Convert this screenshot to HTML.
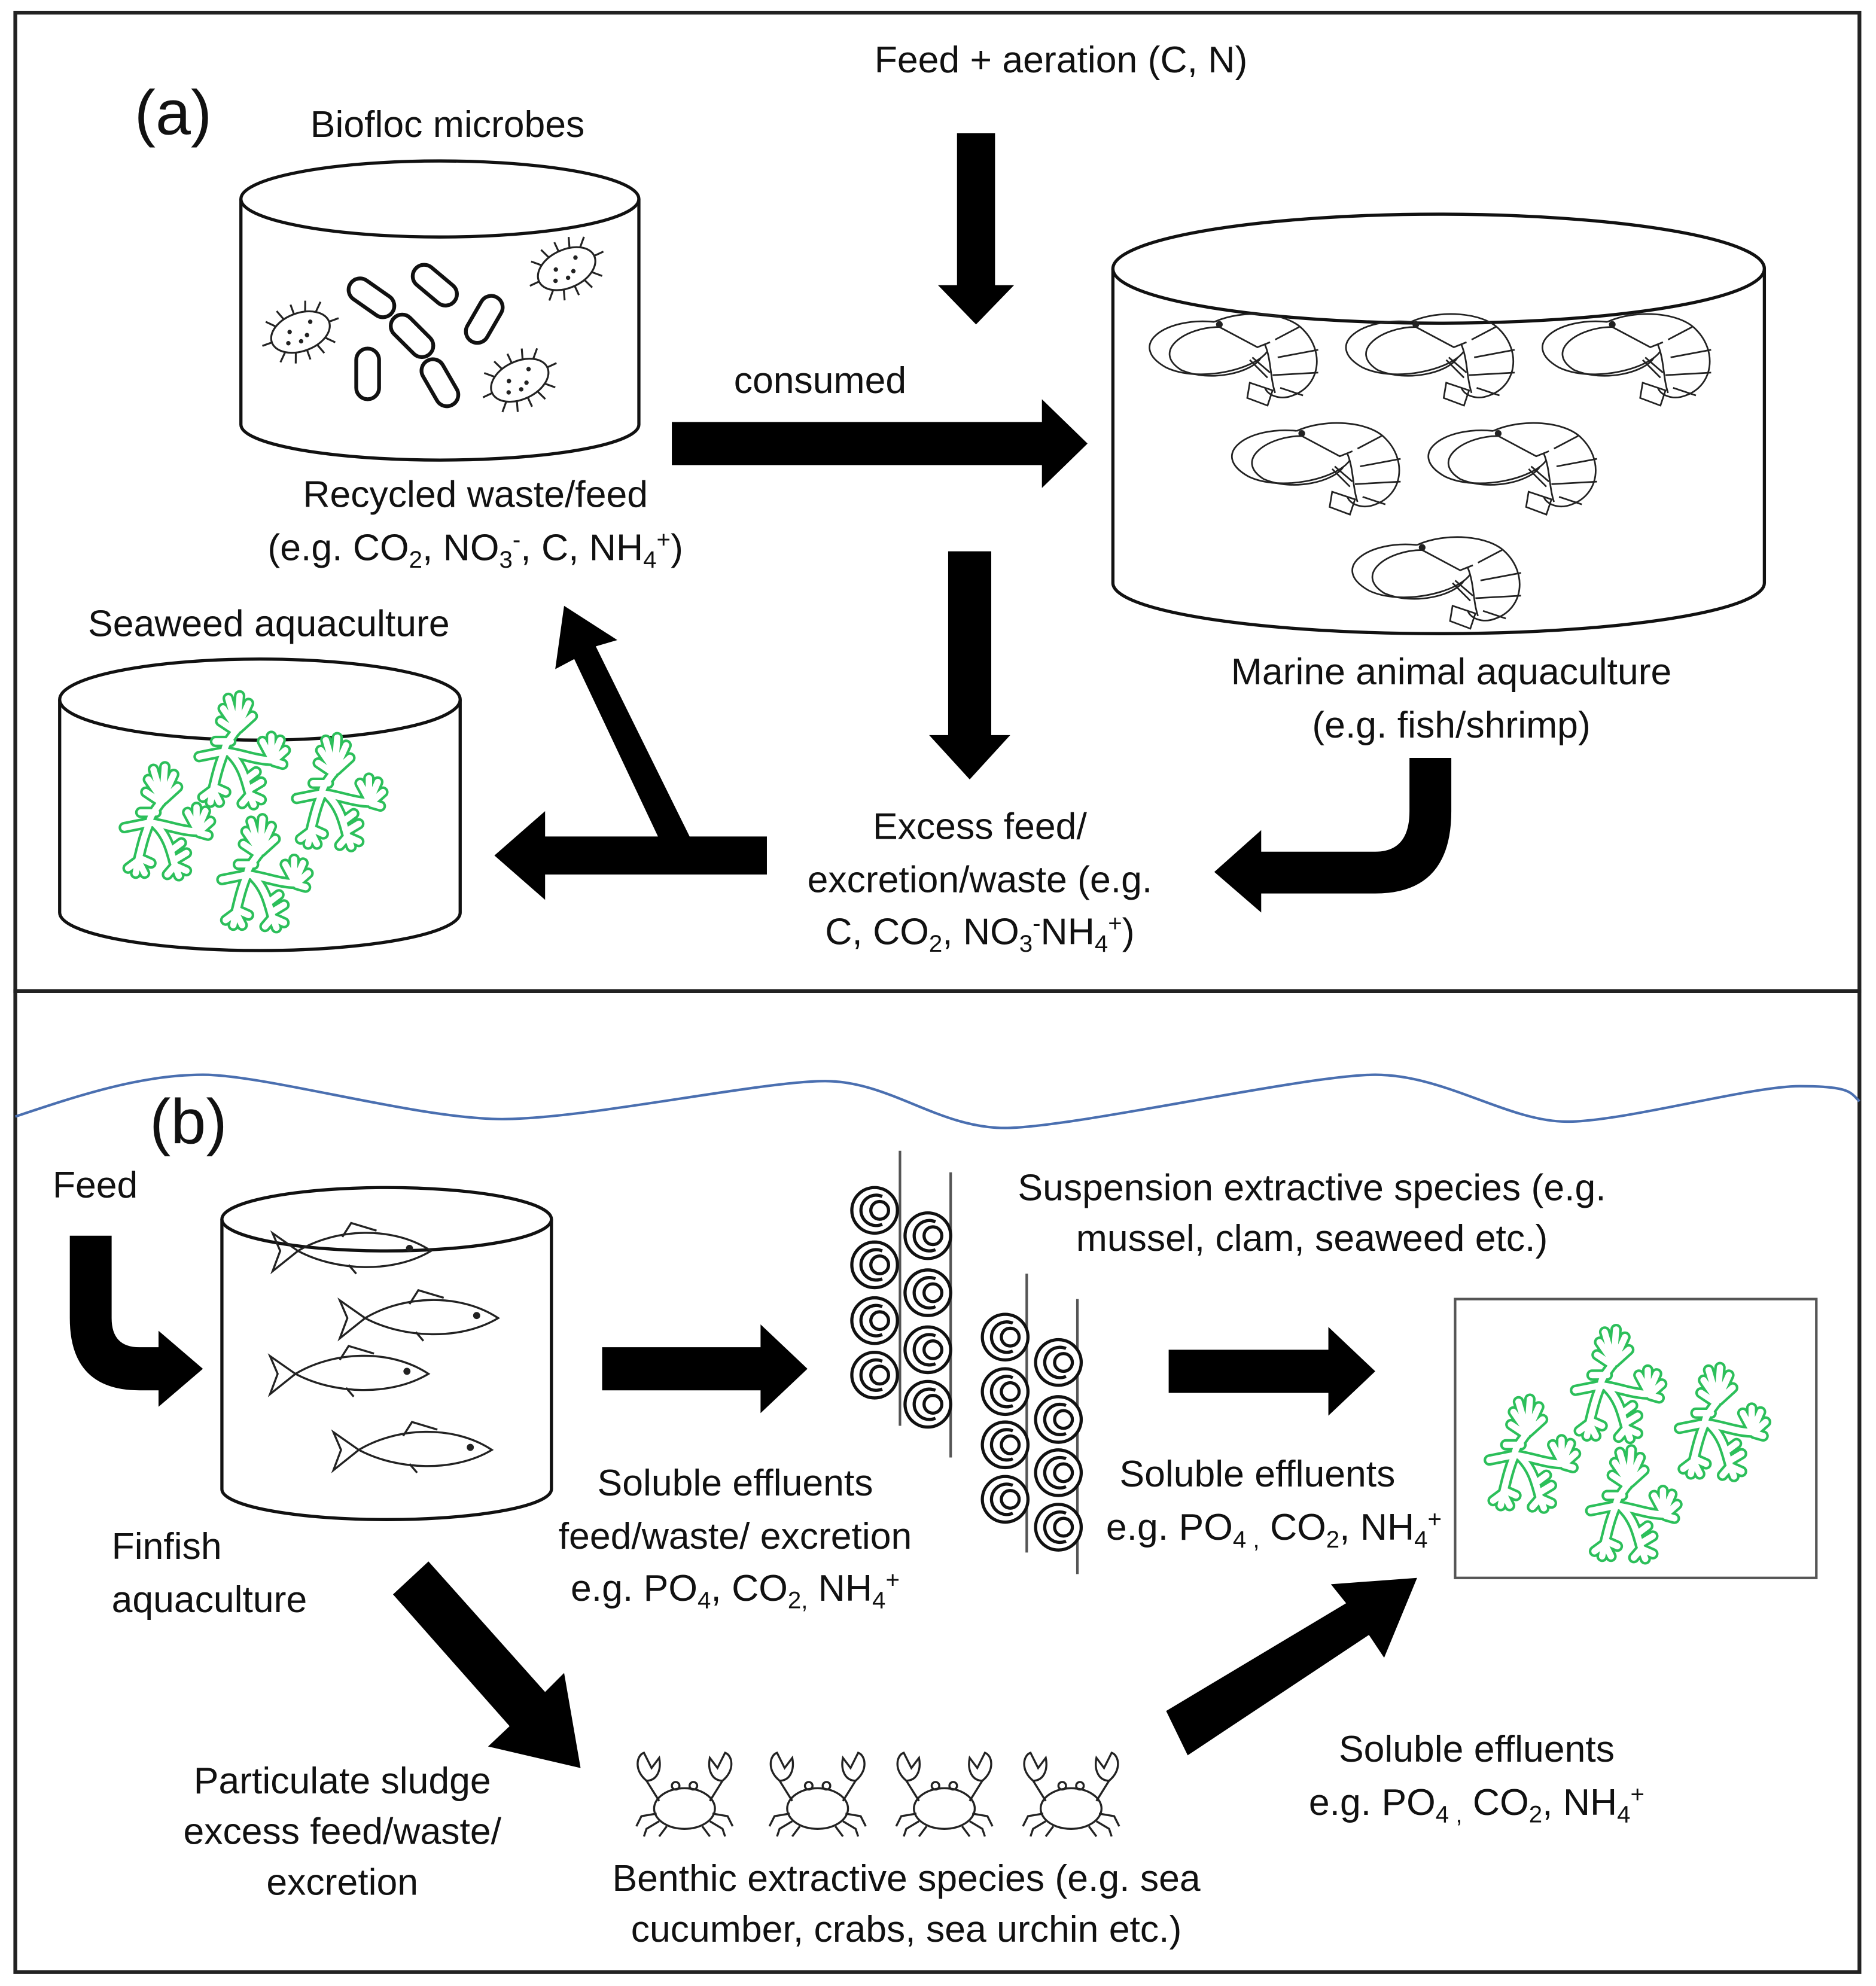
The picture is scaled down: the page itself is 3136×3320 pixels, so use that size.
<!DOCTYPE html>
<html><head><meta charset="utf-8"><style>
html,body{margin:0;padding:0;background:#fff}
svg{display:block}
text{font-family:"Liberation Sans",sans-serif;font-size:29.5px;fill:#111}
</style></head><body>
<svg width="3136" height="3320" viewBox="0 0 1480 1567" xmlns="http://www.w3.org/2000/svg">
<defs>
<g id="shrimp" fill="none" stroke="#222" stroke-width="1.3">
<path d="M58,22 C20,18 -12,40 20,58 C45,70 90,60 100,45"/>
<path d="M62,26 C35,26 8,45 32,60 C55,70 88,62 95,50"/>
<path d="M58,22 C80,12 115,14 128,28 C145,45 142,72 120,80 C110,84 100,80 98,74"/>
<path d="M62,26 L92,42 L102,38 M106,36 L125,26 M108,50 L140,44 M104,64 L140,62 M110,74 L128,80"/>
<path d="M98,40 C103,52 102,66 106,78"/>
<path d="M86,52 L100,66 M88,50 L102,62"/>
<path d="M86,70 L104,76 L100,88 L84,82 Z"/>
<circle cx="62" cy="24" r="2" fill="#222"/>
</g>
<path id="wpath" d="M35,30 C30,38 25,42 25,48 M25,48 L5,52 M25,48 C40,50 50,55 64,55 M62,53 L55,40 M62,53 L62,36 M63,53 L69,39 M64,55 L73,47 M64,56 L71,58 M25,48 C20,60 18,70 16,78 M16,78 L8,84 M16,78 L14,88 M16,78 L21,88 M17,76 L26,80 M30,50 C40,60 42,72 45,82 M45,82 L39,89 M45,82 L48,90 M45,82 L54,86 M44,78 L54,72 M42,70 L50,64 M35,30 L24,14 M35,30 L28,6 M35,30 L37,4 M35,30 L44,10 M36,30 L47,20 M34,32 L22,24 M30,40 L18,40"/>
<g id="weed">
<use href="#wpath" fill="none" stroke="#2cbf5a" stroke-width="9" stroke-linecap="round" stroke-linejoin="round"/>
<use href="#wpath" fill="none" stroke="#fff" stroke-width="5" stroke-linecap="round" stroke-linejoin="round"/>
</g>
<g id="crab" fill="none" stroke="#222" stroke-width="1.6">
<ellipse cx="40" cy="42" rx="24" ry="16" fill="#fff"/>
<path d="M20,36 L10,20 M60,36 L70,20"/>
<path d="M10,20 C0,12 2,0 8,-2 L14,10 L20,2 C22,12 18,20 10,20"/>
<path d="M70,20 C80,12 78,0 72,-2 L66,10 L60,2 C58,12 62,20 70,20"/>
<circle cx="33" cy="24" r="3"/><circle cx="47" cy="24" r="3"/>
<path d="M18,46 L6,48 L2,56 M20,52 L10,58 L8,64 M26,56 L20,64 M62,46 L74,48 L78,56 M60,52 L70,58 L72,64 M54,56 L60,64"/>
</g>
<g id="fish" fill="none" stroke="#222" stroke-width="1.6">
<path d="M0,8 L20,22 L0,38 L6,22 Z"/>
<path d="M20,22 C50,4 95,2 125,22 C95,40 50,38 20,22"/>
<path d="M55,11 L62,0 L82,6 M60,33 L66,40"/>
<circle cx="108" cy="20" r="2" fill="#222"/>
</g>
<g id="mus" fill="none" stroke="#111" stroke-width="2.5">
<circle r="18" fill="#fff"/>
<path d="M6,-11 A12,12 0 1 0 6,11" />
<circle cx="4" cy="0" r="7"/>
</g>
<g id="bac" fill="none" stroke="#222" stroke-width="1.5">
<ellipse rx="24" ry="15" fill="#fff"/>
<path d="M-24,0 l-8,0 M24,0 l8,0 M0,-15 l0,-8 M0,15 l0,8 M-17,-11 l-6,-6 M17,-11 l6,-6 M-17,11 l-6,6 M17,11 l6,6 M-9,-14 l-3,-8 M9,-14 l3,-8 M-9,14 l-3,8 M9,14 l3,8"/>
<circle cx="-8" cy="-3" r="1" fill="#222"/><circle cx="4" cy="4" r="1" fill="#222"/><circle cx="10" cy="-5" r="1" fill="#222"/><circle cx="-2" cy="7" r="1" fill="#222"/><circle cx="-12" cy="5" r="1" fill="#222"/>
</g>
</defs>

<rect x="12" y="10" width="1455" height="772" fill="none" stroke="#222" stroke-width="3"/>
<rect x="12" y="782" width="1455" height="774" fill="none" stroke="#222" stroke-width="3"/>

<!-- PANEL A -->
<text x="106" y="106" style="font-size:50px">(a)</text>
<text x="837" y="57" text-anchor="middle">Feed + aeration (C, N)</text>
<text x="353" y="108" text-anchor="middle">Biofloc microbes</text>

<g fill="none" stroke="#111" stroke-width="2.5">
<ellipse cx="347" cy="157" rx="157" ry="30"/>
<path d="M190,157 L190,335 A157,28 0 0 0 504,335 L504,157"/>
</g>
<use href="#bac" transform="translate(237,262) rotate(-20)"/>
<use href="#bac" transform="translate(447,212) rotate(-25)"/>
<use href="#bac" transform="translate(410,300) rotate(-25)"/>
<g fill="#fff" stroke="#111" stroke-width="3">
<rect x="-9" y="-20" width="18" height="40" rx="9" transform="translate(293,235) rotate(-55)"/>
<rect x="-9" y="-20" width="18" height="40" rx="9" transform="translate(343,225) rotate(-50)"/>
<rect x="-9" y="-20" width="18" height="40" rx="9" transform="translate(325,265) rotate(-45)"/>
<rect x="-9" y="-20" width="18" height="40" rx="9" transform="translate(382,252) rotate(30)"/>
<rect x="-9" y="-20" width="18" height="40" rx="9" transform="translate(290,295) rotate(0)"/>
<rect x="-9" y="-20" width="18" height="40" rx="9" transform="translate(347,302) rotate(-30)"/>
</g>

<path d="M755,105 H785 V225 H800 L770,256 L740,225 H755 Z" fill="#000"/>
<text x="647" y="310" text-anchor="middle">consumed</text>
<path d="M530,333 H822 V315 L858,350 L822,385 V367 H530 Z" fill="#000"/>

<g fill="none" stroke="#111" stroke-width="2.5">
<ellipse cx="1135" cy="212" rx="257" ry="43"/>
<path d="M878,212 L878,460 A257,40 0 0 0 1392,460 L1392,212"/>
</g>
<use href="#shrimp" transform="translate(900,232)"/>
<use href="#shrimp" transform="translate(1055,232)"/>
<use href="#shrimp" transform="translate(1210,232)"/>
<use href="#shrimp" transform="translate(965,318)"/>
<use href="#shrimp" transform="translate(1120,318)"/>
<use href="#shrimp" transform="translate(1060,408)"/>

<text x="375" y="400" text-anchor="middle">Recycled waste/feed</text>
<text x="375" y="442" text-anchor="middle">(e.g. CO<tspan dy="6" style="font-size:19px">2</tspan><tspan dy="-6">, NO</tspan><tspan dy="6" style="font-size:19px">3</tspan><tspan dy="-16" style="font-size:19px">-</tspan><tspan dy="10">, C, NH</tspan><tspan dy="6" style="font-size:19px">4</tspan><tspan dy="-16" style="font-size:19px">+</tspan><tspan dy="10">)</tspan></text>

<path d="M748,435 H782 V580 H797 L765,615 L733,580 H748 Z" fill="#000"/>
<text x="1145" y="540" text-anchor="middle">Marine animal aquaculture</text>
<text x="1145" y="582" text-anchor="middle">(e.g. fish/shrimp)</text>

<text x="212" y="502" text-anchor="middle">Seaweed aquaculture</text>
<g fill="none" stroke="#111" stroke-width="2.5">
<ellipse cx="205" cy="552" rx="158" ry="32"/>
<path d="M47,552 L47,720 A158,30 0 0 0 363,720 L363,552"/>
</g>
<use href="#weed" transform="translate(152,545)"/>
<use href="#weed" transform="translate(93,601)"/>
<use href="#weed" transform="translate(229,578)"/>
<use href="#weed" transform="translate(170,642)"/>

<path d="M605,660 H430 V640 L390,675 L430,710 V690 H605 Z" fill="#000"/>
<path d="M520,662 L545,662 L470,510 L487,505 L445,478 L438,528 L453,520 Z" fill="#000"/>
<path d="M1112,598 H1145 V640 Q1145,705 1085,705 H995 V720 L958,688 L995,655 V672 H1085 Q1112,672 1112,640 Z" fill="#000"/>

<text x="773" y="662" text-anchor="middle">Excess feed/</text>
<text x="773" y="704" text-anchor="middle">excretion/waste (e.g.</text>
<text x="773" y="745" text-anchor="middle">C, CO<tspan dy="6" style="font-size:19px">2</tspan><tspan dy="-6">, NO</tspan><tspan dy="6" style="font-size:19px">3</tspan><tspan dy="-16" style="font-size:19px">-</tspan><tspan dy="10">NH</tspan><tspan dy="6" style="font-size:19px">4</tspan><tspan dy="-16" style="font-size:19px">+</tspan><tspan dy="10">)</tspan></text>

<!-- PANEL B -->
<path d="M12,881 C60,865 110,848 160,848 S330,883 396,883 S600,853 651,853 S740,890 793,890 S1030,848 1085,848 S1190,885 1236,885 S1380,857 1420,857 S1460,862 1467,869" fill="none" stroke="#4a6fb0" stroke-width="2"/>
<text x="118" y="902" style="font-size:50px">(b)</text>
<text x="75" y="945" text-anchor="middle">Feed</text>
<path d="M55,975 H88 V1040 Q88,1063 110,1063 H125 V1050 L160,1080 L125,1110 V1097 H110 Q55,1097 55,1040 Z" fill="#000"/>

<g fill="none" stroke="#111" stroke-width="2.5">
<ellipse cx="305" cy="962" rx="130" ry="25"/>
<path d="M175,962 L175,1175 A130,24 0 0 0 435,1175 L435,962"/>
</g>
<use href="#fish" transform="translate(215,965)"/>
<use href="#fish" transform="translate(268,1018)"/>
<use href="#fish" transform="translate(213,1062)"/>
<use href="#fish" transform="translate(263,1122)"/>
<text x="88" y="1230">Finfish</text>
<text x="88" y="1272">aquaculture</text>

<path d="M475,1063 H600 V1045 L637,1080 L600,1115 V1097 H475 Z" fill="#000"/>

<g stroke="#555" stroke-width="2">
<line x1="710" y1="908" x2="710" y2="1125"/><line x1="750" y1="925" x2="750" y2="1150"/>
<line x1="810" y1="1005" x2="810" y2="1225"/><line x1="850" y1="1025" x2="850" y2="1242"/>
</g>
<use href="#mus" x="690" y="955"/><use href="#mus" x="690" y="998"/><use href="#mus" x="690" y="1042"/><use href="#mus" x="690" y="1085"/>
<use href="#mus" x="732" y="975"/><use href="#mus" x="732" y="1020"/><use href="#mus" x="732" y="1065"/><use href="#mus" x="732" y="1108"/>
<use href="#mus" x="793" y="1055"/><use href="#mus" x="793" y="1098"/><use href="#mus" x="793" y="1140"/><use href="#mus" x="793" y="1183"/>
<use href="#mus" x="835" y="1075"/><use href="#mus" x="835" y="1120"/><use href="#mus" x="835" y="1162"/><use href="#mus" x="835" y="1205"/>

<text x="1035" y="947" text-anchor="middle">Suspension extractive species (e.g.</text>
<text x="1035" y="987" text-anchor="middle">mussel, clam, seaweed etc.)</text>

<path d="M922,1065 H1048 V1047 L1085,1082 L1048,1117 V1099 H922 Z" fill="#000"/>
<rect x="1148" y="1025" width="285" height="220" fill="none" stroke="#555" stroke-width="2"/>
<use href="#weed" transform="translate(1238,1045)"/>
<use href="#weed" transform="translate(1320,1075)"/>
<use href="#weed" transform="translate(1170,1100)"/>
<use href="#weed" transform="translate(1250,1140)"/>

<text x="580" y="1180" text-anchor="middle">Soluble effluents</text>
<text x="580" y="1222" text-anchor="middle">feed/waste/ excretion</text>
<text x="580" y="1263" text-anchor="middle">e.g. PO<tspan dy="6" style="font-size:19px">4</tspan><tspan dy="-6">, CO</tspan><tspan dy="6" style="font-size:19px">2,</tspan><tspan dy="-6"> NH</tspan><tspan dy="6" style="font-size:19px">4</tspan><tspan dy="-16" style="font-size:19px">+</tspan></text>
<text x="992" y="1173" text-anchor="middle">Soluble effluents</text>
<text x="1005" y="1215" text-anchor="middle">e.g. PO<tspan dy="6" style="font-size:19px">4 ,</tspan><tspan dy="-6"> CO</tspan><tspan dy="6" style="font-size:19px">2</tspan><tspan dy="-6">, NH</tspan><tspan dy="6" style="font-size:19px">4</tspan><tspan dy="-16" style="font-size:19px">+</tspan></text>

<path d="M310,1258 L338,1232 L430,1335 L445,1320 L458,1395 L385,1378 L402,1362 Z" fill="#000"/>
<path d="M920,1350 L937,1385 L1080,1290 L1092,1308 L1118,1245 L1050,1250 L1062,1265 Z" fill="#000"/>

<use href="#crab" transform="translate(500,1385)"/>
<use href="#crab" transform="translate(605,1385)"/>
<use href="#crab" transform="translate(705,1385)"/>
<use href="#crab" transform="translate(805,1385)"/>

<text x="270" y="1415" text-anchor="middle">Particulate sludge</text>
<text x="270" y="1455" text-anchor="middle">excess feed/waste/</text>
<text x="270" y="1495" text-anchor="middle">excretion</text>
<text x="715" y="1492" text-anchor="middle">Benthic extractive species (e.g. sea</text>
<text x="715" y="1532" text-anchor="middle">cucumber, crabs, sea urchin etc.)</text>
<text x="1165" y="1390" text-anchor="middle">Soluble effluents</text>
<text x="1165" y="1432" text-anchor="middle">e.g. PO<tspan dy="6" style="font-size:19px">4 ,</tspan><tspan dy="-6"> CO</tspan><tspan dy="6" style="font-size:19px">2</tspan><tspan dy="-6">, NH</tspan><tspan dy="6" style="font-size:19px">4</tspan><tspan dy="-16" style="font-size:19px">+</tspan></text>
</svg>
</body></html>
